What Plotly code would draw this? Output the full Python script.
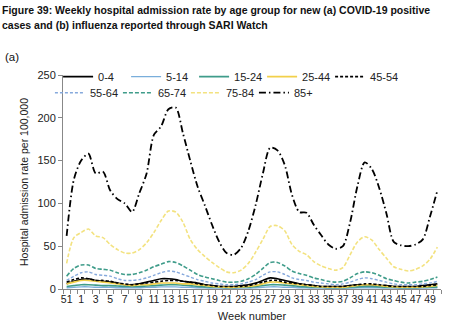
import plotly.graph_objects as go

# ISO weeks covered (week 51 of the previous year through week 50)
weeks = [51, 52] + list(range(1, 51))

age_groups = ["0-4", "5-14", "15-24", "25-44", "45-54", "55-64", "65-74", "75-84", "85+"]

rate_0_4 = [6, 9, 11, 12, 10, 9, 8, 7, 5, 5, 6, 8, 10, 12, 12, 11, 9, 8, 7, 5, 4, 3, 3, 3, 4, 5,
            7, 10, 13, 12, 10, 8, 6, 5, 4, 3, 3, 3, 3, 4, 5, 5, 5, 4, 4, 3, 3, 3, 3, 4, 5, 6]
rate_5_14 = [1.5, 2, 2.5, 2.5, 2, 2, 2, 1.5, 1.5, 1.5, 1.5, 2, 2, 2.5, 2.5, 2.5, 2, 2, 1.5, 1.5, 1, 1, 1, 1, 1, 1,
             1.5, 2, 2.5, 2.5, 2, 2, 1.5, 1.5, 1, 1, 1, 1, 1, 1, 1.5, 1.5, 1.5, 1.5, 1, 1, 1, 1, 1, 1, 1.5, 1.5]
rate_15_24 = [3, 4, 5, 5, 4.5, 4, 4, 3.5, 3, 3, 3, 3.5, 4, 4.5, 5, 5, 4.5, 4, 3, 2.5, 2, 2, 1.5, 1.5, 2, 2,
              3, 4, 5, 5, 4.5, 4, 3, 2.5, 2, 2, 1.5, 1.5, 1.5, 2, 2.5, 3, 3, 2.5, 2, 2, 1.5, 1.5, 1.5, 2, 2, 2.5]
rate_25_44 = [6, 8, 10, 10, 9, 8, 7, 6, 5, 4, 5, 5, 6, 7, 7, 7, 6, 6, 5, 4, 3, 2.5, 2, 2, 2.5, 3,
              4, 6, 8, 8, 7, 6, 5, 4, 3, 2.5, 2, 2, 2, 3, 4, 5, 5, 4, 3, 2.5, 2, 2, 2, 2.5, 3, 4]
rate_45_54 = [8, 11, 13, 12, 10, 10, 9, 7, 6, 5, 6, 7, 8, 9, 10, 10, 9, 8, 6, 5, 4, 3, 3, 3, 3, 4,
              6, 8, 10, 10, 8, 7, 6, 5, 4, 3, 3, 3, 3, 4, 5, 6, 6, 5, 4, 3, 3, 3, 3, 3, 4, 5]
rate_55_64 = [10, 15, 19, 20, 17, 16, 15, 12, 10, 10, 11, 13, 16, 19, 21, 20, 17, 14, 11, 9, 7, 6, 5, 5, 6, 8,
              11, 16, 20, 20, 17, 13, 11, 10, 8, 7, 6, 5, 6, 8, 11, 13, 12, 10, 8, 6, 5, 5, 5, 6, 7, 9]
rate_65_74 = [15, 24, 28, 28, 24, 23, 22, 19, 17, 17, 19, 22, 26, 29, 32, 31, 27, 22, 17, 14, 12, 10, 8, 8, 9, 12,
              17, 24, 31, 31, 27, 21, 18, 16, 13, 11, 9, 8, 9, 13, 18, 20, 19, 16, 12, 10, 8, 7, 8, 9, 11, 14]
rate_75_84 = [30, 60, 66, 70, 62, 60, 52, 46, 42, 42, 46, 54, 66, 80, 91, 90, 78, 58, 46, 38, 31, 25, 20, 19, 22, 30,
              43, 58, 73, 74, 68, 52, 44, 40, 32, 27, 24, 22, 25, 40, 55, 61, 57, 46, 36, 26, 23, 21, 23, 27, 35, 49]
rate_85_plus = [62, 128, 150, 158, 135, 137, 115, 105, 100, 90, 112, 135, 180, 190, 210, 212, 182, 150, 120, 98,
                75, 55, 42, 40, 48, 68, 98, 135, 165, 162, 145, 110, 90, 89, 75, 63, 52, 47, 50, 78, 120, 148,
                140, 118, 88, 55, 51, 50, 52, 58, 85, 115]

series = [rate_0_4, rate_5_14, rate_15_24, rate_25_44, rate_45_54,
          rate_55_64, rate_65_74, rate_75_84, rate_85_plus]

colors = ["#000000", "#7aaedb", "#3f9c8a", "#f2d04a", "#000000",
          "#86a9dc", "#3f9c8a", "#f3e27f", "#000000"]
dashes = ["solid", "solid", "solid", "solid", "3px,2px",
          "3px,2px", "4px,2px", "4px,2px", "7px,3px,1.5px,3px"]
widths = [1.6, 1.4, 1.6, 1.6, 1.6, 1.4, 1.6, 1.6, 1.8]

x_pos = list(range(len(weeks)))

fig = go.Figure()
for i, (name, vals, col, dsh, w) in enumerate(zip(age_groups, series, colors, dashes, widths)):
    fig.add_trace(go.Scatter(
        x=x_pos, y=vals, name=name, mode="lines",
        line=dict(color=col, dash=dsh, width=w, shape="spline", smoothing=0.8),
        legend="legend" if i < 5 else "legend2",
    ))

FONT = "Liberation Sans, Arial, sans-serif"
title_font = dict(family=FONT, size=10.5, color="#111111")
fig.add_annotation(text="<b>Figure 39: Weekly hospital admission rate by age group for new (a) COVID-19 positive</b>",
                   xref="paper", yref="paper", x=-63 / 378, y=1 + (75 - 10) / 214,
                   xanchor="left", yanchor="middle", showarrow=False, font=title_font)
fig.add_annotation(text="<b>cases and (b) influenza reported through SARI Watch</b>",
                   xref="paper", yref="paper", x=-63 / 378, y=1 + (75 - 25) / 214,
                   xanchor="left", yanchor="middle", showarrow=False, font=title_font)
fig.add_annotation(text="(a)", xref="paper", yref="paper", x=-60 / 378, y=1 + (75 - 57) / 214,
                   xanchor="left", yanchor="middle", showarrow=False,
                   font=dict(family=FONT, size=11.5, color="#111111"))

tick_font = dict(family=FONT, size=10.5, color="#222222")
legend_style = dict(
    orientation="h", yanchor="top",
    font=dict(family=FONT, size=11, color="#222222"),
    entrywidth=23, entrywidthmode="pixels", itemwidth=30,
    bgcolor="rgba(255,255,255,0)", tracegroupgap=0,
)

fig.update_layout(
    width=474, height=334,
    margin=dict(l=63, r=33, t=75, b=45),
    paper_bgcolor="white", plot_bgcolor="white",
    showlegend=True,
    legend=dict(x=-0.013, y=1.06, xanchor="left", **legend_style),
    legend2=dict(x=0.685, y=0.985, xanchor="right", **legend_style),
    xaxis=dict(
        range=[-0.5, len(weeks) - 0.5],
        tickmode="array", tickvals=x_pos[::2], ticktext=[str(w) for w in weeks[::2]],
        ticks="", tickfont=tick_font,
        showline=True, linecolor="#888888", linewidth=1, showgrid=False, zeroline=False,
        minor=dict(tickmode="array", tickvals=[i - 0.5 for i in range(len(weeks) + 1)],
                   ticks="outside", ticklen=4, tickcolor="#888888", showgrid=False),
        title=dict(text="Week number", font=dict(family=FONT, size=11, color="#222222"), standoff=8),
    ),
    yaxis=dict(
        range=[0, 250], tickmode="array", tickvals=[0, 50, 100, 150, 200, 250],
        ticks="outside", ticklen=4, tickcolor="#888888", tickfont=dict(family=FONT, size=11, color="#222222"),
        showline=True, linecolor="#888888", linewidth=1, showgrid=False, zeroline=False,
        title=dict(text="Hospital admission rate per 100,000",
                   font=dict(family=FONT, size=10.5, color="#222222"),
                   standoff=6),
    ),
)

fig.write_html("out.html")
